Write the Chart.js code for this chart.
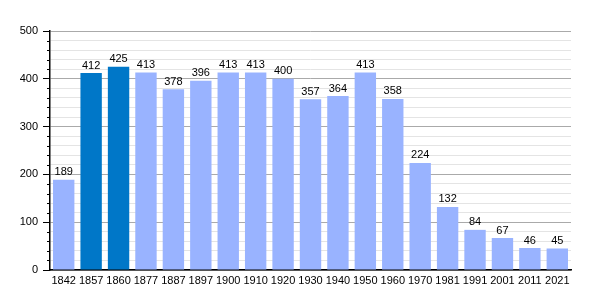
<!DOCTYPE html>
<html>
<head>
<meta charset="utf-8">
<script src="https://cdn.jsdelivr.net/npm/chart.js@4"></script>
<style>
 html, body { margin: 0; padding: 0; background: #fff; }
 #wrap { width: 600px; height: 300px; }
</style>
</head>
<body>
<div id="wrap"><canvas id="popChart" width="600" height="300"></canvas></div>
<script>
const years = ["1842", "1857", "1860", "1877", "1887", "1897", "1900", "1910", "1920", "1930",
 "1940", "1950", "1960", "1970", "1981", "1991", "2001", "2011", "2021"];
const population = [189, 412, 425, 413, 378, 396, 413, 413, 400, 357,
 364, 413, 358, 224, 132, 84, 67, 46, 45];
const highlighted = ["1857", "1860"];
const yTicks = [0, 100, 200, 300, 400, 500];

const lightBlue = "#99b3ff";
const darkBlue = "#0077c8";
const isMajor = v => yTicks.includes(v);

// numbers over the bars + short minor tick marks on the y axis
const extras = {
 id: 'extras',
 afterDatasetsDraw(chart) {
  const ctx = chart.ctx;
  const meta = chart.getDatasetMeta(0);
  ctx.save();
  ctx.font = '11px "Liberation Sans", Arial, sans-serif';
  ctx.fillStyle = '#000';
  ctx.textAlign = 'center';
  ctx.textBaseline = 'bottom';
  meta.data.forEach(function (bar, i) {
   ctx.fillText(String(population[i]), bar.x, bar.y - 2);
  });

  const y = chart.scales.y;
  const left = chart.chartArea.left;
  ctx.strokeStyle = '#000';
  ctx.lineWidth = 1;
  y.ticks.forEach(function (t) {
   if (isMajor(t.value)) return;
   const py = Math.round(y.getPixelForValue(t.value)) + 0.5;
   ctx.beginPath();
   ctx.moveTo(left - 3, py);
   ctx.lineTo(left, py);
   ctx.stroke();
  });
  ctx.restore();
 }
};

const ctx = document.getElementById('popChart').getContext('2d');
new Chart(ctx, {
 type: 'bar',
 data: {
  labels: years,
  datasets: [{
   data: population,
   backgroundColor: years.map(y => highlighted.includes(y) ? darkBlue : lightBlue),
   borderWidth: 0,
   barPercentage: 0.78,
   categoryPercentage: 1.0
  }]
 },
 options: {
  responsive: false,
  animation: false,
  layout: { padding: { top: 31, right: 29, left: 0, bottom: 0 } },
  plugins: { legend: { display: false }, tooltip: { enabled: false } },
  scales: {
   x: {
    grid: { display: false, drawTicks: false },
    border: { color: '#000', width: 1.5 },
    ticks: {
     color: '#000',
     padding: 4,
     maxRotation: 0,
     autoSkip: false,
     font: { family: '"Liberation Sans", Arial, sans-serif', size: 11 }
    },
    afterFit(scale) { scale.height = 30; }
   },
   y: {
    min: 0,
    max: 500,
    grid: {
     color: c => (c.tick && isMajor(c.tick.value)) ? '#aaaaaa' : '#e4e4e4',
     tickColor: c => (c.tick && isMajor(c.tick.value)) ? '#000' : 'rgba(0,0,0,0)',
     tickLength: 7,
     lineWidth: 1
    },
    border: { color: '#000', width: 1.5 },
    ticks: {
     stepSize: 20,
     autoSkip: false,
     color: '#000',
     padding: 5,
     font: { family: '"Liberation Sans", Arial, sans-serif', size: 11 },
     callback: v => isMajor(v) ? String(v) : ''
    },
    afterFit(scale) { scale.width = 50; }
   }
  }
 },
 plugins: [extras]
});
</script>
</body>
</html>
